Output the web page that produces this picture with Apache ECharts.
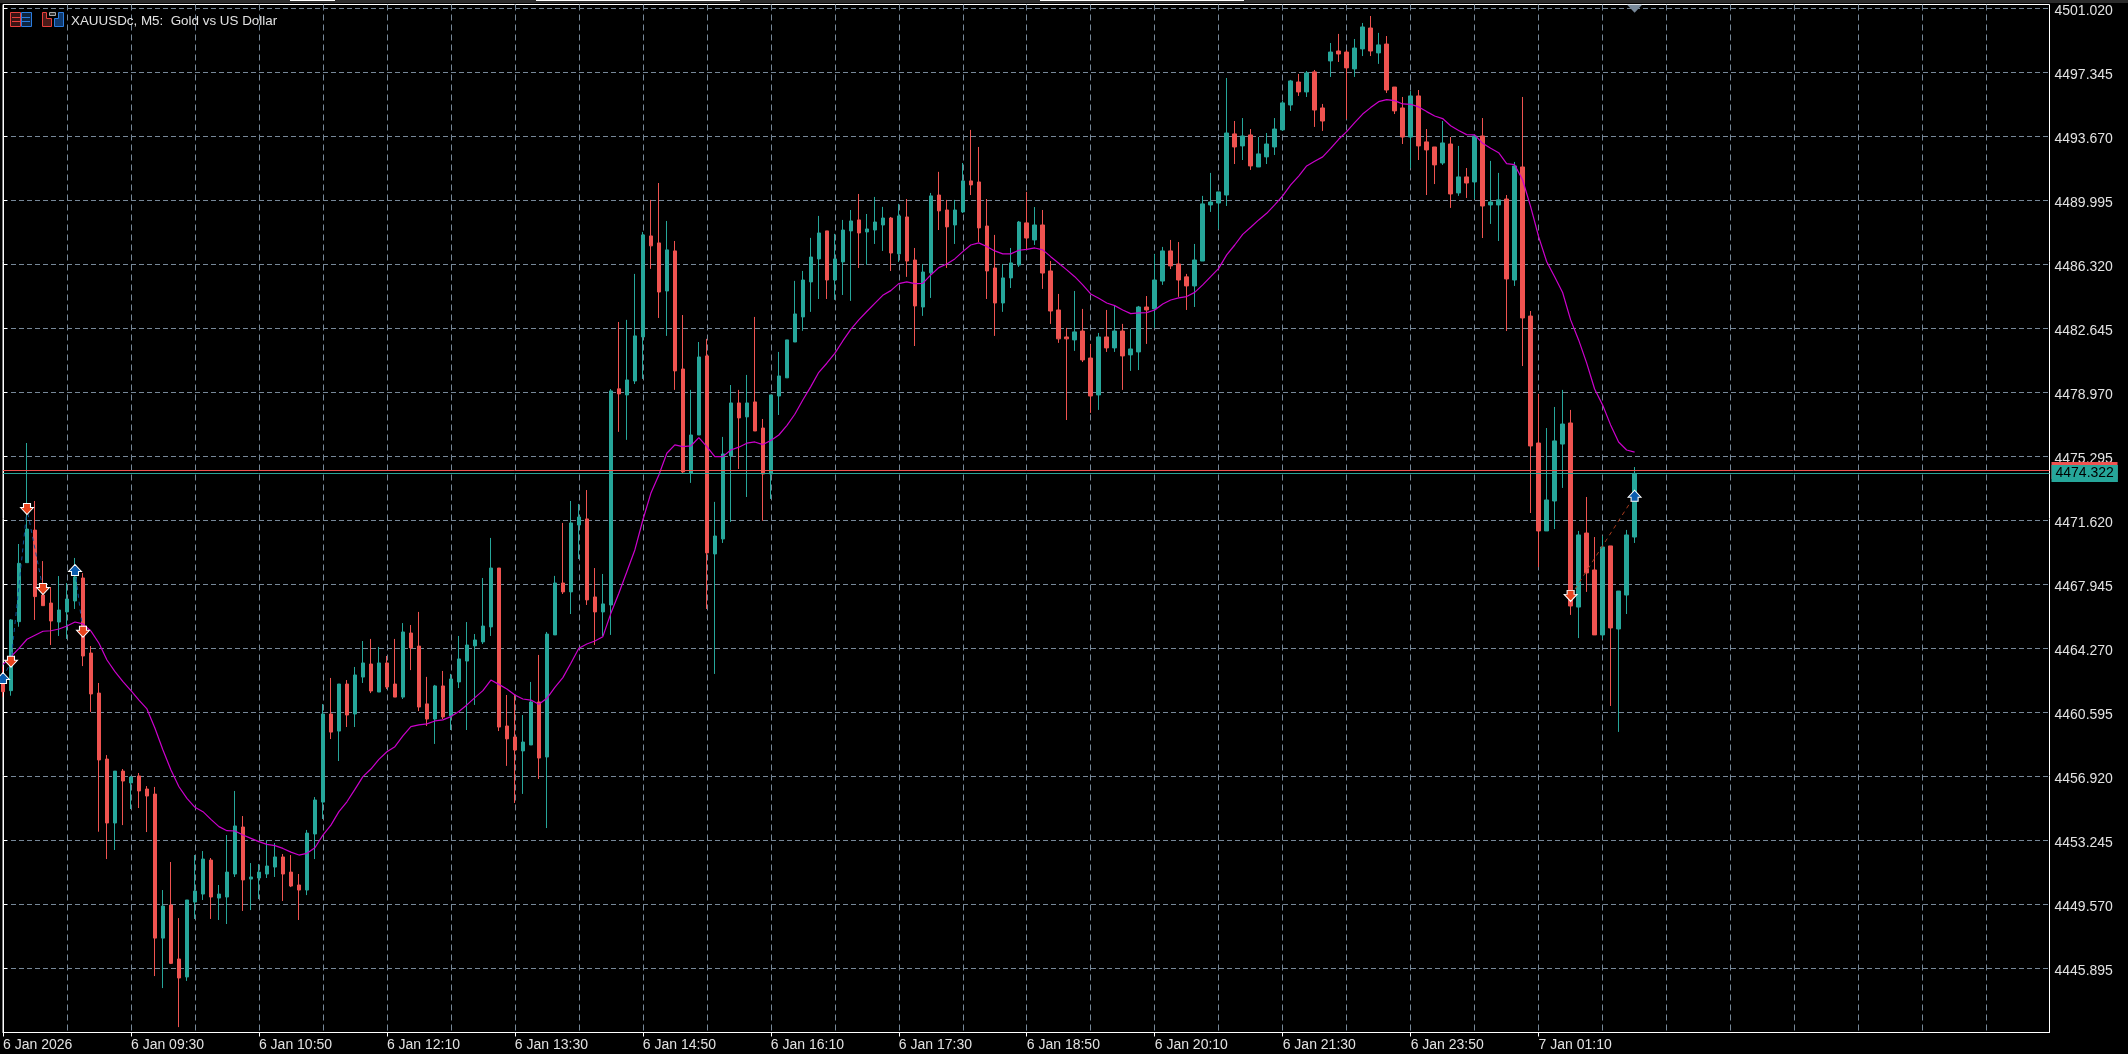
<!DOCTYPE html>
<html>
<head>
<meta charset="utf-8">
<title>XAUUSDc, M5</title>
<script src="https://cdn.jsdelivr.net/npm/echarts@6/dist/echarts.min.js"></script>
<style>
  html, body { margin: 0; padding: 0; background: #000; }
  #chart { width: 2128px; height: 1054px; }
</style>
</head>
<body>
<div id="chart"></div>
<script>
// M5 candles, one entry per bar
var opens = [
  4462.37,4461.85,4465.81,4469.20,4471.07,4467.34,4466.88,4465.79,4466.37,4467.00,
  4468.32,4464.01,4461.71,4457.92,4454.25,4457.23,4456.55,4456.95,4456.20,4455.91,
  4447.64,4449.54,4446.44,4445.41,4449.71,4450.17,4452.12,4449.94,4450.00,4451.32,
  4454.02,4451.03,4451.09,4451.32,4451.72,4452.30,4451.43,4450.69,4450.40,4453.62,
  4455.45,4460.51,4459.53,4462.23,4460.51,4462.63,4463.38,4461.77,4463.44,4462.23,
  4461.48,4465.16,4464.41,4461.09,4460.22,4462.12,4460.40,4462.35,4463.55,4464.42,
  4464.65,4465.51,4468.89,4459.82,4459.19,4458.39,4458.73,4461.20,4458.04,4465.05,
  4468.03,4467.52,4471.36,4471.71,4467.23,4466.37,4466.77,4479.18,4478.83,4479.63,
  4482.16,4487.96,4487.56,4484.80,4487.10,4480.32,4474.35,4476.53,4481.07,4469.70,
  4470.56,4475.33,4478.37,4477.57,4478.43,4476.93,4474.29,4478.77,4479.81,4481.87,
  4483.31,4485.32,4486.64,4488.25,4485.43,4486.47,4488.25,4488.88,4488.19,4488.30,
  4488.59,4488.99,4486.93,4489.05,4486.58,4483.88,4485.84,4490.31,4489.45,4488.59,
  4489.34,4491.12,4491.06,4488.53,4486.12,4484.11,4485.55,4486.29,4488.71,4487.73,
  4488.59,4485.95,4483.71,4482.16,4481.99,4482.50,4480.95,4478.83,4482.16,4481.53,
  4482.50,4481.13,4481.30,4483.88,4483.77,4485.37,4487.10,4486.35,4485.61,4485.09,
  4486.52,4489.74,4489.85,4490.31,4493.82,4493.13,4493.76,4491.92,4492.50,4493.07,
  4494.05,4495.48,4496.80,4496.23,4497.38,4495.31,4498.01,4498.58,4498.52,4497.55,
  4498.70,4499.90,4498.47,4498.98,4496.51,4495.31,4493.64,4496.00,4493.36,4493.07,
  4492.15,4493.24,4490.43,4491.35,4491.06,4493.70,4489.74,4489.74,4490.08,4485.43,
  4491.92,4483.36,4476.07,4471.02,4472.74,4476.01,4477.22,4466.65,4470.90,4468.78,
  4465.05,4470.16,4465.39,4467.34,4470.67
];
var closes = [
  4461.79,4465.91,4469.16,4471.13,4467.25,4466.73,4465.85,4466.48,4467.11,4468.38,
  4463.84,4461.66,4457.87,4454.25,4457.23,4456.66,4456.89,4456.09,4455.80,4447.64,
  4449.48,4446.19,4445.35,4449.83,4450.34,4452.18,4450.00,4450.17,4451.43,4454.08,
  4450.98,4451.15,4451.43,4451.78,4452.30,4451.32,4450.63,4450.40,4453.67,4455.57,
  4460.51,4459.47,4462.23,4460.45,4462.75,4463.44,4461.83,4463.44,4462.06,4461.48,
  4465.22,4464.30,4460.91,4460.22,4462.12,4460.34,4462.52,4463.67,4464.47,4464.76,
  4465.56,4468.89,4459.76,4459.08,4458.44,4458.90,4461.20,4457.98,4465.10,4468.03,
  4467.52,4471.48,4471.82,4467.06,4466.37,4466.83,4479.06,4478.89,4479.69,4482.22,
  4488.02,4487.39,4484.74,4487.16,4480.21,4474.41,4476.53,4481.01,4469.76,4470.73,
  4475.44,4478.37,4477.51,4478.37,4476.76,4474.29,4478.83,4479.92,4481.99,4483.48,
  4485.43,4486.75,4488.13,4485.43,4486.64,4488.30,4488.82,4488.13,4488.36,4488.76,
  4488.99,4486.98,4489.11,4486.52,4483.94,4485.89,4490.26,4489.40,4488.48,4489.45,
  4491.12,4490.89,4488.42,4485.95,4484.11,4485.55,4486.41,4488.76,4487.84,4488.59,
  4485.83,4483.65,4482.05,4482.05,4482.45,4480.84,4478.77,4482.16,4481.53,4482.50,
  4481.07,4481.47,4483.88,4483.71,4485.43,4487.10,4486.24,4485.43,4485.09,4486.58,
  4489.80,4489.91,4490.49,4493.87,4493.07,4493.70,4491.98,4492.67,4493.24,4494.10,
  4495.60,4496.86,4496.23,4497.32,4495.19,4494.56,4498.52,4498.41,4497.61,4498.75,
  4499.96,4498.58,4498.93,4496.34,4495.14,4493.64,4496.00,4493.13,4492.90,4492.04,
  4493.30,4490.37,4491.35,4491.00,4493.70,4489.68,4489.91,4490.03,4485.49,4491.98,
  4483.25,4475.90,4471.02,4472.80,4476.19,4477.16,4466.71,4470.79,4468.61,4465.05,
  4470.10,4465.45,4467.57,4470.79,4474.322
];
var lows = [
  4461.50,4461.56,4465.52,4469.20,4465.91,4466.73,4464.47,4464.99,4464.82,4466.54,
  4463.26,4460.62,4453.75,4452.18,4452.70,4454.13,4455.05,4455.11,4453.73,4445.46,
  4444.77,4446.15,4442.53,4445.18,4448.74,4449.83,4448.74,4448.68,4448.45,4451.15,
  4449.20,4449.25,4449.88,4451.09,4451.15,4449.77,4450.57,4448.68,4450.11,4452.18,
  4454.48,4459.07,4457.81,4459.76,4459.76,4462.29,4461.71,4461.77,4461.94,4461.48,
  4461.37,4463.03,4460.68,4459.82,4458.79,4460.22,4459.59,4462.00,4459.59,4461.03,
  4464.53,4464.99,4459.53,4457.53,4455.40,4455.92,4458.73,4456.78,4453.96,4465.05,
  4467.40,4466.25,4469.41,4466.77,4464.47,4464.99,4465.05,4476.71,4476.25,4479.46,
  4479.75,4486.07,4483.25,4482.22,4479.12,4474.35,4473.78,4476.53,4466.54,4462.81,
  4470.33,4471.54,4474.58,4472.97,4476.76,4471.60,4472.86,4477.68,4479.81,4481.87,
  4482.51,4483.60,4484.34,4484.34,4484.29,4484.57,4484.23,4486.12,4486.30,4487.50,
  4487.10,4485.95,4486.47,4485.61,4481.64,4483.37,4484.40,4488.30,4486.12,4487.50,
  4489.28,4490.31,4487.61,4484.34,4482.22,4483.60,4484.97,4486.18,4487.16,4487.44,
  4484.92,4482.91,4481.82,4477.39,4481.36,4480.72,4477.80,4477.97,4481.30,4481.30,
  4479.12,4480.21,4480.26,4481.76,4482.68,4485.15,4486.06,4484.46,4483.71,4483.88,
  4486.52,4489.34,4488.36,4489.68,4492.09,4492.32,4491.75,4491.92,4492.09,4492.61,
  4493.99,4495.14,4496.00,4495.94,4494.22,4493.99,4497.09,4497.95,4494.68,4497.09,
  4498.29,4498.29,4497.84,4496.17,4494.96,4493.24,4491.86,4492.32,4490.31,4490.94,
  4492.04,4489.57,4490.26,4490.14,4490.08,4487.84,4488.65,4487.67,4482.50,4485.09,
  4480.49,4472.05,4468.95,4471.02,4471.13,4473.49,4466.20,4464.87,4467.52,4465.05,
  4464.82,4460.97,4459.48,4466.25,4470.33
];
var highs = [
  4463.23,4465.96,4470.27,4476.07,4472.74,4469.29,4467.80,4468.43,4468.03,4469.47,
  4468.60,4464.41,4462.29,4458.15,4457.23,4457.35,4456.95,4457.12,4456.37,4456.32,
  4450.40,4452.01,4448.79,4449.83,4452.41,4452.64,4452.24,4450.69,4453.56,4456.09,
  4454.65,4451.95,4451.89,4453.27,4453.10,4452.47,4452.41,4451.32,4453.85,4455.74,
  4461.08,4462.58,4462.23,4462.46,4463.21,4464.70,4464.82,4464.36,4463.84,4464.82,
  4465.73,4465.62,4466.37,4462.64,4462.18,4462.98,4462.81,4464.99,4465.79,4465.10,
  4468.32,4470.62,4468.89,4461.60,4461.60,4460.45,4462.35,4463.90,4465.22,4468.44,
  4471.48,4472.74,4472.57,4473.37,4468.89,4468.55,4479.17,4483.02,4483.14,4485.78,
  4488.19,4490.03,4491.00,4488.82,4487.67,4483.42,4479.12,4481.87,4482.05,4472.69,
  4476.42,4479.40,4479.12,4479.98,4483.31,4477.45,4478.83,4481.30,4481.99,4485.38,
  4485.95,4487.85,4489.11,4488.25,4488.08,4488.88,4489.45,4490.37,4489.22,4490.20,
  4489.63,4489.05,4489.80,4490.08,4487.27,4486.35,4490.43,4491.64,4490.03,4490.03,
  4492.15,4494.05,4493.07,4490.08,4488.02,4486.35,4487.27,4488.82,4490.49,4489.62,
  4489.45,4486.52,4484.63,4482.68,4484.80,4483.77,4481.76,4482.39,4483.71,4483.94,
  4482.91,4482.62,4483.94,4484.51,4486.93,4487.33,4487.73,4487.61,4485.78,4487.50,
  4490.26,4491.58,4490.49,4497.03,4494.56,4494.73,4494.10,4493.64,4493.87,4494.73,
  4495.71,4496.92,4497.26,4497.43,4497.49,4495.54,4499.04,4499.56,4498.64,4499.27,
  4500.19,4500.59,4499.62,4499.44,4496.51,4495.94,4496.28,4496.34,4494.10,4493.07,
  4494.56,4493.64,4493.13,4491.86,4493.76,4494.73,4492.27,4491.58,4490.31,4492.21,
  4495.94,4483.65,4478.89,4476.93,4478.14,4479.12,4477.97,4471.02,4472.97,4470.67,
  4470.73,4470.16,4467.57,4471.08,4474.69
];
// moving average (magenta line)
var maValues = [
  4463.36,4463.80,4464.28,4464.80,4465.03,4465.26,4465.29,4465.39,4465.56,4465.79,
  4465.68,4465.27,4464.57,4463.61,4462.94,4462.37,4461.85,4461.31,4460.80,4459.69,
  4458.44,4457.29,4456.33,4455.66,4455.15,4454.90,4454.46,4454.04,4453.81,4453.79,
  4453.56,4453.37,4453.18,4453.02,4452.95,4452.79,4452.58,4452.41,4452.51,4452.83,
  4453.56,4454.13,4454.90,4455.47,4456.18,4456.91,4457.35,4457.90,4458.34,4458.63,
  4459.25,4459.78,4459.88,4459.94,4460.11,4460.17,4460.36,4460.65,4461.03,4461.45,
  4461.85,4462.46,4462.21,4461.95,4461.60,4461.37,4461.31,4461.07,4461.41,4462.04,
  4462.60,4463.42,4464.28,4464.53,4464.70,4464.95,4466.29,4467.44,4468.68,4469.93,
  4471.65,4473.18,4474.23,4475.48,4475.96,4475.86,4475.90,4476.38,4475.86,4475.29,
  4475.29,4475.67,4475.83,4476.06,4476.13,4475.98,4476.21,4476.53,4477.07,4477.72,
  4478.54,4479.31,4480.13,4480.65,4481.22,4481.93,4482.60,4483.14,4483.62,4484.09,
  4484.55,4484.82,4485.22,4485.32,4485.22,4485.24,4485.72,4486.14,4486.35,4486.64,
  4487.06,4487.44,4487.56,4487.35,4487.10,4486.93,4486.93,4487.14,4487.19,4487.27,
  4487.16,4486.77,4486.39,4486.01,4485.62,4485.15,4484.63,4484.38,4484.11,4483.96,
  4483.71,4483.50,4483.54,4483.56,4483.71,4484.05,4484.28,4484.40,4484.48,4484.72,
  4485.15,4485.62,4486.10,4486.87,4487.44,4488.05,4488.46,4488.88,4489.26,4489.74,
  4490.26,4490.89,4491.40,4491.98,4492.25,4492.50,4492.99,4493.51,4493.95,4494.47,
  4494.96,4495.33,4495.67,4495.79,4495.73,4495.54,4495.52,4495.37,4495.10,4494.85,
  4494.70,4494.29,4494.01,4493.78,4493.76,4493.28,4492.99,4492.74,4492.11,4492.05,
  4491.17,4489.64,4487.92,4486.49,4485.62,4484.71,4483.14,4481.99,4480.67,4479.17,
  4478.25,4477.11,4476.13,4475.67,4475.55
];
// price axis
var priceTicks = [
  4501.020,4497.345,4493.670,4489.995,4486.320,4482.645,4478.970,4475.295,
  4471.620,4467.945,4464.270,4460.595,4456.920,4453.245,4449.570,4445.895
];
var priceMin = 4442.22;
var priceMax = 4501.25;
// time axis: bar index of each label
var timeLabelBars = [0,16,32,48,64,80,96,112,128,144,160,176,192];
var timeLabels = [
  '6 Jan 2026','6 Jan 09:30','6 Jan 10:50','6 Jan 12:10','6 Jan 13:30','6 Jan 14:50',
  '6 Jan 16:10','6 Jan 17:30','6 Jan 18:50','6 Jan 20:10','6 Jan 21:30','6 Jan 23:50','7 Jan 01:10'
];
var barMax = 255.875;
// bid / ask
var bidPrice = 4474.322;
var askPrice = 4474.49;
// trade arrows [bar, price]
var sellArrows = [[1,4463.51],[3,4472.28],[5,4467.69],[10,4465.23],[196,4467.29]];
var buyArrows = [[0,4462.58],[9,4468.78],[204,4473.04]];
// dashed trade lines [bar, price], '-' breaks the line
var tradeLineBlue = [[0,4462.58],[1,4463.51],[3,4472.28],[5,4467.69],[6,'-'],[9,4468.78],[10,4465.23]];
var tradeLineRed = [[196,4467.29],[204,4473.04]];
// chart shift marker on the top edge
var shiftMarker = [[204,4501.0]];

var teal = '#26a69a';
var red = '#ef5350';
var gridColor = '#778899';
var textColor = '#e2e2e2';
var fontName = '"Liberation Sans", sans-serif';

var candles = opens.map(function (o, i) {
  return [i, o, closes[i], lows[i], highs[i]];
});
var maLine = maValues.map(function (v, i) {
  return [i, v];
});

var arrowDown = 'path://M3 0H10V4H13L6.5 11L0 4H3Z';
var arrowUp = 'path://M6.5 0L13 7H10V11H3V7H0Z';

var chart = echarts.init(document.getElementById('chart'));
chart.setOption({
  animation: false,
  backgroundColor: '#000',
  title: {
    text: 'XAUUSDc, M5:  Gold vs US Dollar',
    left: 71,
    top: 15,
    padding: 0,
    textStyle: { color: textColor, fontFamily: fontName, fontSize: 13.4, fontWeight: 'normal' },
  },
  grid: {
    show: true,
    left: 2.5,
    top: 4.5,
    width: 2047,
    height: 1028,
    borderColor: '#fff',
    borderWidth: 1,
    backgroundColor: 'transparent',
  },
  xAxis: [
    {
      // labels and ticks, every 16 bars, none after the last bar
      type: 'value',
      min: 0,
      max: barMax,
      position: 'bottom',
      axisLine: { show: true, lineStyle: { color: '#fff' } },
      axisTick: { show: true, length: 4, lineStyle: { color: '#fff' }, customValues: timeLabelBars },
      axisLabel: {
        show: true,
        customValues: timeLabelBars,
        align: 'left',
        margin: 6,
        color: textColor,
        fontFamily: fontName,
        fontSize: 14,
        formatter: function (v) {
          return timeLabels[timeLabelBars.indexOf(v)];
        },
      },
      splitLine: { show: false },
    },
    {
      // vertical grid, every 8 bars
      type: 'value',
      min: 0,
      max: barMax,
      interval: 8,
      position: 'bottom',
      axisLine: { show: false },
      axisTick: { show: false },
      axisLabel: { show: false },
      splitLine: {
        show: true,
        showMinLine: false,
        showMaxLine: false,
        lineStyle: { color: gridColor, type: [6, 4], width: 1 },
      },
    },
  ],
  yAxis: {
    type: 'value',
    position: 'right',
    min: priceMin,
    max: priceMax,
    axisLine: { show: true, lineStyle: { color: '#fff' } },
    axisTick: { show: true, length: 4, lineStyle: { color: '#fff' }, customValues: priceTicks },
    axisLabel: {
      show: true,
      customValues: priceTicks,
      margin: 5,
      color: textColor,
      fontFamily: fontName,
      fontSize: 14,
      verticalAlign: 'top',
      lineHeight: 5,
      formatter: function (v) {
        return v.toFixed(3);
      },
    },
    splitLine: { show: true, lineStyle: { color: gridColor, type: [5, 3], width: 1 } },
  },
  series: [
    {
      name: 'XAUUSDc',
      type: 'candlestick',
      xAxisIndex: 0,
      barWidth: 4,
      encode: { x: 0, y: [1, 2, 3, 4] },
      itemStyle: { color: teal, color0: red, borderColor: teal, borderColor0: red, borderWidth: 1 },
      data: candles,
      z: 3,
      markLine: {
        silent: true,
        symbol: 'none',
        animation: false,
        precision: 3,
        data: [
          {
            yAxis: askPrice,
            lineStyle: { color: red, type: 'solid', width: 1 },
            label: {
              show: true,
              position: 'end',
              distance: 2,
              formatter: ' ',
              width: 66,
              height: 17,
              padding: 0,
              backgroundColor: red,
            },
          },
          {
            yAxis: bidPrice,
            lineStyle: { color: teal, type: 'solid', width: 1 },
            label: {
              show: true,
              position: 'end',
              distance: 2,
              formatter: function () {
                return bidPrice.toFixed(3);
              },
              color: '#000',
              fontFamily: fontName,
              fontSize: 14,
              lineHeight: 17,
              padding: [0, 4, 0, 4],
              backgroundColor: teal,
            },
          },
        ],
      },
    },
    {
      name: 'MA',
      type: 'line',
      xAxisIndex: 0,
      data: maLine,
      showSymbol: false,
      lineStyle: { color: '#cc00cc', width: 1.2 },
      z: 4,
    },
    {
      name: 'Trades blue',
      type: 'line',
      xAxisIndex: 0,
      data: tradeLineBlue,
      showSymbol: false,
      connectNulls: false,
      lineStyle: { color: '#0d4f94', width: 1, type: [4, 4] },
      z: 5,
    },
    {
      name: 'Trades red',
      type: 'line',
      xAxisIndex: 0,
      data: tradeLineRed,
      showSymbol: false,
      lineStyle: { color: '#a83c1e', width: 1, type: [4, 4] },
      z: 5,
    },
    {
      name: 'Sell',
      type: 'scatter',
      xAxisIndex: 0,
      data: sellArrows,
      symbol: arrowDown,
      symbolSize: [13, 11],
      itemStyle: { color: '#e8431c', borderColor: '#fff', borderWidth: 1, opacity: 1 },
      z: 6,
    },
    {
      name: 'Buy',
      type: 'scatter',
      xAxisIndex: 0,
      data: buyArrows,
      symbol: arrowUp,
      symbolSize: [13, 11],
      itemStyle: { color: '#0a5cae', borderColor: '#fff', borderWidth: 1, opacity: 1 },
      z: 6,
    },
    {
      name: 'Shift',
      type: 'scatter',
      xAxisIndex: 0,
      data: shiftMarker,
      symbol: 'triangle',
      symbolRotate: 180,
      symbolSize: [15, 8],
      itemStyle: { color: gridColor, opacity: 1 },
      z: 6,
    },
  ],
  graphic: [
    // window strip above the chart
    { type: 'rect', shape: { x: 0, y: 0, width: 2128, height: 3 }, style: { fill: '#2b2b2b' }, silent: true },
    { type: 'rect', shape: { x: 290, y: 0, width: 45, height: 1 }, style: { fill: '#fff' }, silent: true },
    { type: 'rect', shape: { x: 536, y: 0, width: 204, height: 1 }, style: { fill: '#fff' }, silent: true },
    { type: 'rect', shape: { x: 1040, y: 0, width: 204, height: 1 }, style: { fill: '#fff' }, silent: true },
    // one click trading icon
    { type: 'rect', shape: { x: 10.5, y: 12.5, width: 10, height: 14 }, style: { fill: '#3a1414', stroke: '#e8403c', lineWidth: 1 }, silent: true },
    { type: 'rect', shape: { x: 21.5, y: 12.5, width: 10, height: 14 }, style: { fill: '#0f2440', stroke: '#2b7de0', lineWidth: 1 }, silent: true },
    { type: 'line', shape: { x1: 12, y1: 17.5, x2: 20, y2: 17.5 }, style: { stroke: '#e8403c', lineWidth: 1 }, silent: true },
    { type: 'line', shape: { x1: 12, y1: 21.5, x2: 20, y2: 21.5 }, style: { stroke: '#e8403c', lineWidth: 1 }, silent: true },
    { type: 'line', shape: { x1: 22, y1: 17.5, x2: 30, y2: 17.5 }, style: { stroke: '#2b7de0', lineWidth: 1 }, silent: true },
    { type: 'line', shape: { x1: 22, y1: 21.5, x2: 30, y2: 21.5 }, style: { stroke: '#2b7de0', lineWidth: 1 }, silent: true },
    // expert icon
    { type: 'polygon', shape: { points: [[42.5, 12.5], [46.5, 12.5], [46.5, 18.5], [51.5, 18.5], [51.5, 26.5], [42.5, 26.5]] }, style: { fill: '#4a1a18', stroke: '#e8403c', lineWidth: 1 }, silent: true },
    { type: 'polygon', shape: { points: [[58.5, 12.5], [63.5, 12.5], [63.5, 26.5], [54.5, 26.5], [54.5, 18.5], [58.5, 18.5]] }, style: { fill: '#0f3a70', stroke: '#2b7de0', lineWidth: 1 }, silent: true },
    { type: 'rect', shape: { x: 49.5, y: 12.5, width: 6, height: 3 }, style: { fill: '#333', stroke: '#aaa', lineWidth: 1 }, silent: true },
  ],
});
</script>
</body>
</html>
